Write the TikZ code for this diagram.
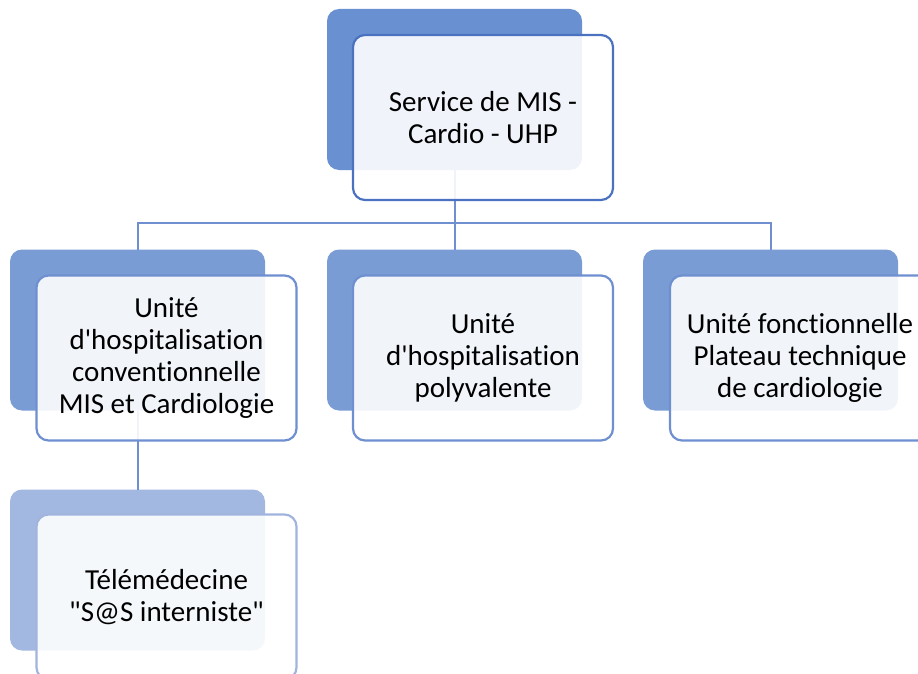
\documentclass[tikz,border=0pt]{standalone}
\usepackage{fontspec}
\newfontfamily\cardfont{Carlito}[Ligatures=NoCommon]
\usepackage{xcolor}
\definecolor{topback}{HTML}{6990D0}
\definecolor{midback}{HTML}{7A9CD5}
\definecolor{lowback}{HTML}{A3B8E0}
\definecolor{topline}{HTML}{4A72C0}
\definecolor{midline}{HTML}{6E8FD0}
\definecolor{lowline}{HTML}{A2B4DE}
\definecolor{linkcol}{HTML}{6F8FD0}
\tikzset{
    back/.style={rounded corners=12pt, inner sep=0pt, outer sep=0pt,
        minimum width=255pt, minimum height=161pt},
    card/.style={rounded corners=12pt, inner sep=0pt, outer sep=0pt,
        draw, line width=2.2pt, fill=white, fill opacity=0.9, text opacity=1,
        minimum width=260pt, minimum height=165pt, align=center,
        font=\cardfont\fontsize{29}{32}\selectfont},
    link/.style={draw=linkcol, line width=2pt}
}

\begin{document}
\begin{tikzpicture}[x=1pt, y=-1pt]
            \clip (0, 0) rectangle (918, 674);
            \fill[white] (0, 0) rectangle (918, 674);

            % back shapes
            \node[back, fill=topback] (srvB) at (454.5, 89.5) {};
            \node[back, fill=midback] (uhcB) at (137.5, 330) {};
            \node[back, fill=midback] (uhpB) at (454.5, 330) {};
            \node[back, fill=midback] (ufpB) at (770.5, 330) {};
            \node[back, fill=lowback] (telB) at (137.5, 570) {};

            % links
            \coordinate (bus) at (454.5, 223);
            \draw[link] (srvB.south) -- (bus);
            \draw[link] (bus) -| (uhcB.north);
            \draw[link] (bus) -- (uhpB.north);
            \draw[link] (bus) -| (ufpB.north);
            \draw[link] (uhcB.south) -- (telB.north);

            % front cards
            \node[card, draw=topline] (srv) at (483, 117.5) {Service de MIS -\\ Cardio - UHP};
            \node[card, draw=midline] (uhc) at (166.5, 358) {Unité\\d'hospitalisation\\conventionnelle\\MIS et Cardiologie};
            \node[card, draw=midline] (uhp) at (483, 358) {Unité\\d'hospitalisation\\polyvalente};
            \node[card, draw=midline] (ufp) at (800, 358) {Unité fonctionnelle\\Plateau technique\\de cardiologie};
            \node[card, draw=lowline] (tel) at (166.5, 597) {Télémédecine\\"S@S interniste"};
        \end{tikzpicture}
\end{document}
